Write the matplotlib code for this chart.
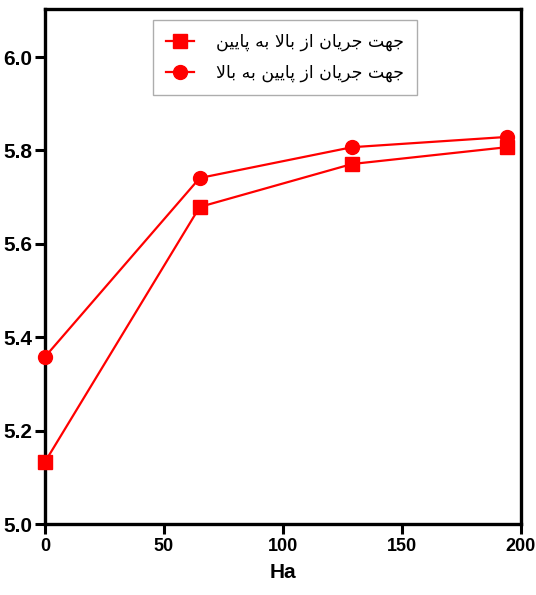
import matplotlib
matplotlib.use("Agg")
import matplotlib.pyplot as plt

# Hartmann number and results for the two flow directions
ha = [0, 65, 129, 194]
top_to_bottom = [5.133, 5.679, 5.771, 5.807]
bottom_to_top = [5.358, 5.741, 5.807, 5.829]

label_down = "جهت جريان از بالا به پايين"
label_up = "جهت جريان از پايين به بالا"

x_ticks = [0, 50, 100, 150, 200]
y_ticks = [5.0, 5.2, 5.4, 5.6, 5.8, 6.0]

# presentation forms: isolated, final, initial, medial
FORMS = {
    'ج': (0xFE9D, 0xFE9E, 0xFE9F, 0xFEA0),
    'ه': (0xFEE9, 0xFEEA, 0xFEEB, 0xFEEC),
    'ت': (0xFE95, 0xFE96, 0xFE97, 0xFE98),
    'ر': (0xFEAD, 0xFEAE, None, None),
    'ي': (0xFEF1, 0xFEF2, 0xFEF3, 0xFEF4),
    'ا': (0xFE8D, 0xFE8E, None, None),
    'ن': (0xFEE5, 0xFEE6, 0xFEE7, 0xFEE8),
    'ز': (0xFEAF, 0xFEB0, None, None),
    'ب': (0xFE8F, 0xFE90, 0xFE91, 0xFE92),
    'ل': (0xFEDD, 0xFEDE, 0xFEDF, 0xFEE0),
    'پ': (0xFB56, 0xFB57, 0xFB58, 0xFB59),
    'LA': (0xFEFB, 0xFEFC, None, None),
}


def shape(text):
    # join letters and flip to visual order, matplotlib does no bidi
    chars = []
    i = 0
    while i < len(text):
        if text[i] == 'ل' and i + 1 < len(text) and text[i + 1] == 'ا':
            chars.append('LA')
            i += 2
        else:
            chars.append(text[i])
            i += 1
    out = []
    for k, c in enumerate(chars):
        if c not in FORMS:
            out.append(c)
            continue
        f = FORMS[c]
        prev = chars[k - 1] if k > 0 else None
        nxt = chars[k + 1] if k + 1 < len(chars) else None
        jp = prev in FORMS and FORMS[prev][2] is not None
        jn = nxt in FORMS and f[2] is not None
        if jp and jn:
            code = f[3]
        elif jp:
            code = f[1]
        elif jn:
            code = f[2]
        else:
            code = f[0]
        out.append(chr(code))
    return ''.join(out)[::-1]


plt.rcParams['font.family'] = ['Liberation Sans', 'DejaVu Sans']

fig = plt.figure(figsize=(5.36, 5.95), dpi=100)
ax = fig.add_axes([45 / 536, 71 / 595, 476 / 536, 515 / 595])

ax.plot(ha, top_to_bottom, color='#ff0000', lw=1.6, marker='s', ms=10,
        label=shape(label_down), clip_on=False, zorder=3)
ax.plot(ha, bottom_to_top, color='#ff0000', lw=1.6, marker='o', ms=10,
        label=shape(label_up), clip_on=False, zorder=3)

ax.set_xlim(0, 200)
ax.set_ylim(5.0, 6.103)
ax.set_xticks(x_ticks)
ax.set_yticks(y_ticks)
ax.set_yticklabels([f"{v:.1f}" for v in y_ticks])

for s in ax.spines.values():
    s.set_linewidth(2.4)
ax.tick_params(direction='out', length=7, width=2.2, pad=3, labelsize=13)
ax.tick_params(axis='y', labelsize=15, pad=2)
for t in ax.get_xticklabels() + ax.get_yticklabels():
    t.set_fontweight('bold')

ax.set_xlabel("Ha", fontsize=15, fontweight='bold', labelpad=6)

leg = ax.legend(loc='upper left', bbox_to_anchor=(153 / 536, 1 - 20 / 595),
                bbox_transform=fig.transFigure, fancybox=False,
                prop={'family': ['DejaVu Sans'], 'size': 12.5},
                handlelength=1.6, handletextpad=1.3, borderpad=0.75,
                labelspacing=0.72, borderaxespad=0)
leg.get_frame().set_edgecolor('#999999')
leg.get_frame().set_linewidth(1.0)

fig.savefig("out.png", dpi=100)
